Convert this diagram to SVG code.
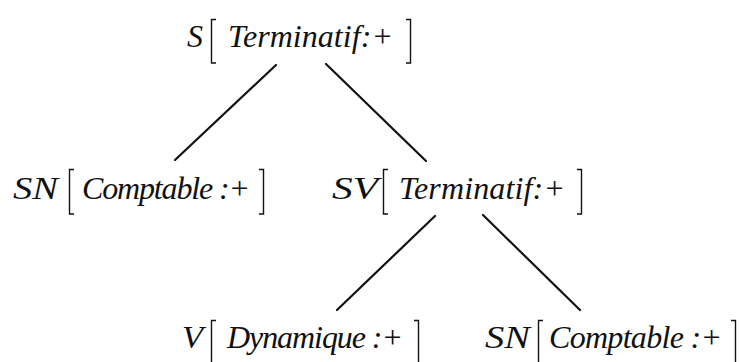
<svg xmlns="http://www.w3.org/2000/svg" width="740" height="362" viewBox="0 0 740 362">
<style>
  .t { font-family: "Liberation Serif", "Times New Roman", serif; font-style: italic; font-size: 32px; fill: #111; }
  .br { fill: none; stroke: #111; stroke-width: 1.4; }
  .edge { stroke: #111; stroke-width: 2.2; stroke-linecap: round; }
</style>
<rect width="740" height="362" fill="#fff"/>
<g id="connectors">
  <line class="edge" x1="276" y1="65" x2="175" y2="160"/>
  <line class="edge" x1="326" y1="64" x2="426" y2="161"/>
  <line class="edge" x1="435" y1="216" x2="337" y2="310"/>
  <line class="edge" x1="483" y1="215" x2="580" y2="310"/>
</g>
<g id="node-S">
  <text class="t" x="187" y="47" textLength="16" lengthAdjust="spacingAndGlyphs">S</text>
  <path class="br" d="M216 19.5 H211.5 V63 H216"/>
  <text class="t" x="228" y="47" textLength="165">Terminatif:+</text>
  <path class="br" d="M406 19.5 H410.5 V63 H406"/>
</g>
<g id="node-SN1">
  <text class="t" x="13" y="199" textLength="45" lengthAdjust="spacingAndGlyphs">SN</text>
  <path class="br" d="M74 169.5 H69.5 V214 H74"/>
  <text class="t" x="82" y="199" textLength="168">Comptable :+</text>
  <path class="br" d="M259 169.5 H263.5 V214 H259"/>
</g>
<g id="node-SV">
  <text class="t" x="332" y="199" textLength="46" lengthAdjust="spacingAndGlyphs">SV</text>
  <path class="br" d="M388 169.5 H383.5 V214 H388"/>
  <text class="t" x="399" y="199" textLength="166">Terminatif:+</text>
  <path class="br" d="M577 169.5 H581.5 V214 H577"/>
</g>
<g id="node-V">
  <text class="t" x="182" y="348" textLength="21" lengthAdjust="spacingAndGlyphs">V</text>
  <path class="br" d="M216 320.5 H211.5 V366"/>
  <text class="t" x="227" y="348" textLength="176">Dynamique :+</text>
  <path class="br" d="M414 320.5 H418.5 V366"/>
</g>
<g id="node-SN2">
  <text class="t" x="485" y="348" textLength="45" lengthAdjust="spacingAndGlyphs">SN</text>
  <path class="br" d="M543 320.5 H538.5 V366"/>
  <text class="t" x="549" y="348" textLength="173">Comptable :+</text>
  <path class="br" d="M731 320.5 H735.5 V366"/>
</g>
</svg>
